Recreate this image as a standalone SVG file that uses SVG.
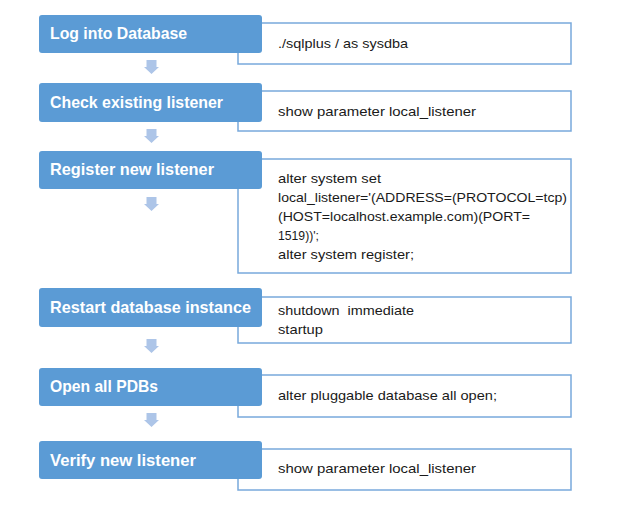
<svg xmlns="http://www.w3.org/2000/svg" width="619" height="509" viewBox="0 0 619 509">
<defs>
<style>
.step{fill:#5b9bd5;}
.cmd{fill:#ffffff;stroke:#78a9dc;stroke-width:1.5;}
.lbl{font-family:"Liberation Sans",Arial,sans-serif;font-weight:bold;font-size:16.5px;fill:#ffffff;}
.code{font-family:"Liberation Sans",Arial,sans-serif;font-size:13.5px;fill:#1a1a1a;}
.arr{fill:#adc5e8;}
</style>
<path id="down" d="M-5,0 H5 V7 H7.5 L0,14 L-7.5,7 H-5 Z"/>
</defs>
<rect width="619" height="509" fill="#ffffff"/>
<g id="connectors">
<use href="#down" class="arr" x="151.5" y="60"/>
<use href="#down" class="arr" x="151.5" y="129"/>
<use href="#down" class="arr" x="151.5" y="197"/>
<use href="#down" class="arr" x="151.5" y="339"/>
<use href="#down" class="arr" x="151.5" y="413"/>
</g>
<g id="step1">
<rect class="cmd" x="238" y="23" width="333" height="41"/>
<rect class="step" x="39" y="15" width="223" height="38" rx="3"/>
<text class="lbl" x="50" y="39" textLength="137" lengthAdjust="spacingAndGlyphs">Log into Database</text>
<text class="code" x="278" y="48" textLength="130" lengthAdjust="spacingAndGlyphs">./sqlplus / as sysdba</text>
</g>
<g id="step2">
<rect class="cmd" x="238" y="91" width="333" height="40"/>
<rect class="step" x="39" y="83" width="223" height="39" rx="3"/>
<text class="lbl" x="50" y="108" textLength="173" lengthAdjust="spacingAndGlyphs">Check existing listener</text>
<text class="code" x="278" y="116" textLength="198" lengthAdjust="spacingAndGlyphs">show parameter local_listener</text>
</g>
<g id="step3">
<rect class="cmd" x="238" y="159" width="333" height="114"/>
<rect class="step" x="39" y="151" width="223" height="38" rx="3"/>
<text class="lbl" x="50" y="175" textLength="164" lengthAdjust="spacingAndGlyphs">Register new listener</text>
<text class="code" x="278" y="183" textLength="103" lengthAdjust="spacingAndGlyphs">alter system set</text>
<text class="code" x="278" y="202" textLength="289" lengthAdjust="spacingAndGlyphs">local_listener='(ADDRESS=(PROTOCOL=tcp)</text>
<text class="code" x="278" y="221" textLength="252" lengthAdjust="spacingAndGlyphs">(HOST=localhost.example.com)(PORT=</text>
<text class="code" x="278" y="240" textLength="41" lengthAdjust="spacingAndGlyphs">1519))';</text>
<text class="code" x="278" y="259" textLength="136" lengthAdjust="spacingAndGlyphs">alter system register;</text>
</g>
<g id="step4">
<rect class="cmd" x="238" y="297" width="333" height="46"/>
<rect class="step" x="39" y="288" width="223" height="39" rx="3"/>
<text class="lbl" x="50" y="313" textLength="201" lengthAdjust="spacingAndGlyphs">Restart database instance</text>
<text class="code" x="278" y="315" textLength="136" lengthAdjust="spacingAndGlyphs" xml:space="preserve">shutdown  immediate</text>
<text class="code" x="278" y="334" textLength="45" lengthAdjust="spacingAndGlyphs">startup</text>
</g>
<g id="step5">
<rect class="cmd" x="238" y="375" width="333" height="42"/>
<rect class="step" x="39" y="368" width="223" height="38" rx="3"/>
<text class="lbl" x="50" y="392" textLength="108" lengthAdjust="spacingAndGlyphs">Open all PDBs</text>
<text class="code" x="278" y="400" textLength="219" lengthAdjust="spacingAndGlyphs">alter pluggable database all open;</text>
</g>
<g id="step6">
<rect class="cmd" x="238" y="449" width="333" height="41"/>
<rect class="step" x="39" y="441" width="223" height="38" rx="3"/>
<text class="lbl" x="50" y="466" textLength="146" lengthAdjust="spacingAndGlyphs">Verify new listener</text>
<text class="code" x="278" y="473" textLength="198" lengthAdjust="spacingAndGlyphs">show parameter local_listener</text>
</g>
</svg>
